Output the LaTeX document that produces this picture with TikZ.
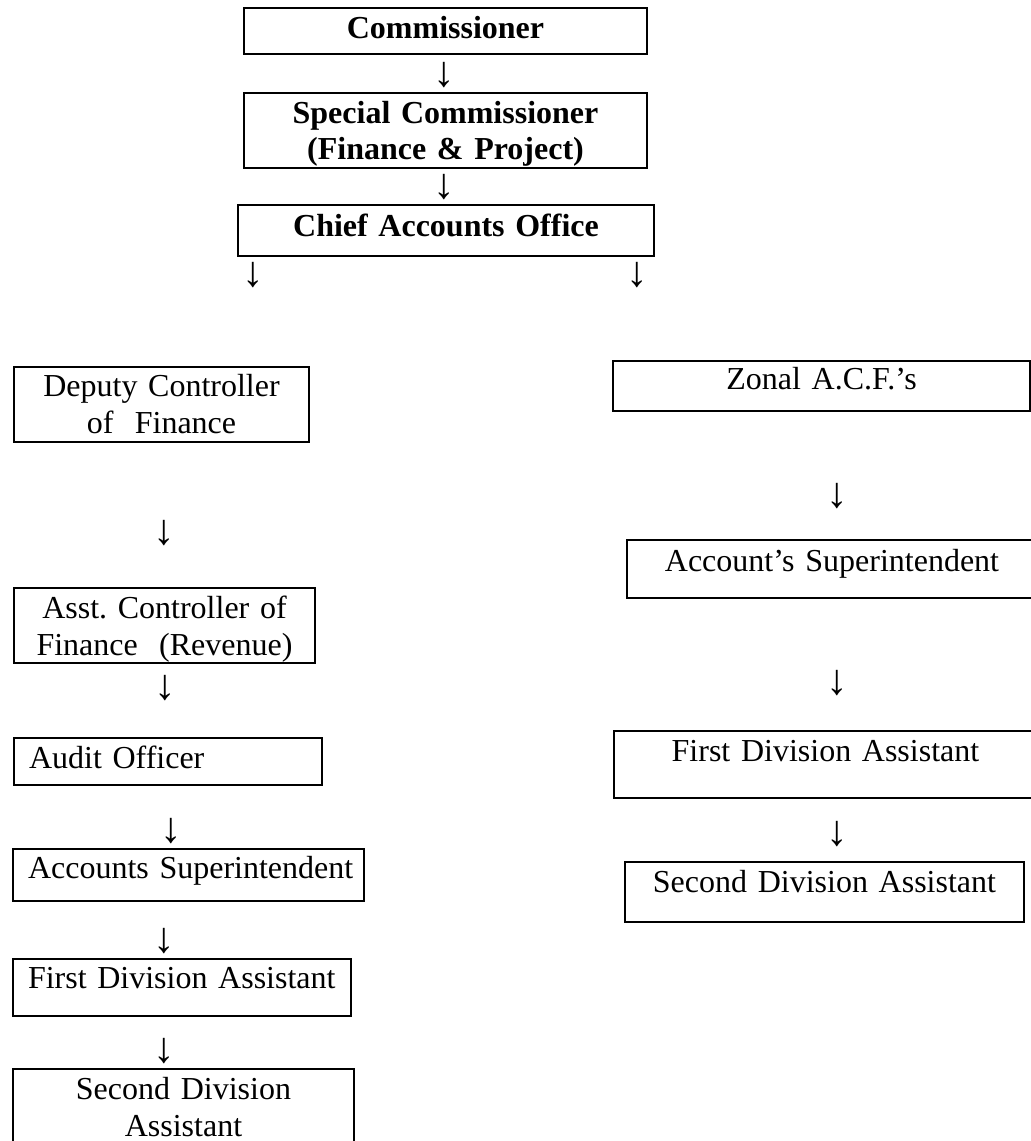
\documentclass[tikz,border=0pt]{standalone}
\usepackage{fontspec}
\setmainfont{Liberation Serif}
\frenchspacing
\hyphenpenalty=10000
\tikzstyle{post}=[draw=black,line width=2pt,anchor=north west,inner ysep=0pt,inner xsep=6pt,align=center,font=\fontsize{32}{37}\selectfont]
\tikzstyle{headpost}=[post,font=\fontsize{32}{36}\selectfont\bfseries]
\tikzstyle{leftpost}=[post,align=left,inner xsep=15pt]
\tikzstyle{down}=[inner sep=0pt,font=\fontsize{43}{43}\selectfont]

\begin{document}
\begin{tikzpicture}[x=1pt,y=-1pt]
    \useasboundingbox (0,0) rectangle (1031,1141);

    % head office
    \node[headpost, text width=391pt, text height=30pt, text depth=16pt] (comm) at (243,7) {Commissioner};
    \node[headpost, text width=391pt, text height=30pt, text depth=45pt] (spcomm) at (243,92) {Special Commissioner\\(Finance \& Project)};
    \node[headpost, text width=404pt, text height=31pt, text depth=20pt] (chief) at (237,204) {Chief Accounts Office};
    \node[down] (dncomm) at (444,75) {↓};
    \node[down] (dnspcomm) at (444,187) {↓};
    \node[down] (dnleft) at (253,275) {↓};
    \node[down] (dnright) at (637,275) {↓};

    % left branch
    \node[post, text width=283pt, text height=29pt, text depth=46pt] (dcf) at (13,366) {Deputy Controller\\of\ \ Finance};
    \node[down] (dndcf) at (164,533) {↓};
    \node[post, text width=289pt, text height=30pt, text depth=45pt] (acf) at (13,587) {Asst. Controller of\\Finance\ \ (Revenue)};
    \node[down] (dnacf) at (165,688) {↓};
    \node[leftpost, text width=278pt, text height=30pt, text depth=17pt] (audit) at (13,737) {Audit~Officer};
    \node[down] (dnaudit) at (171,831) {↓};
    \node[leftpost, text width=321pt, text height=29pt, text depth=23pt] (accsup) at (12,848) {Accounts~Superintendent};
    \node[down] (dnaccsup) at (164,941) {↓};
    \node[leftpost, text width=308pt, text height=29pt, text depth=28pt] (fda) at (12,958) {First~Division~Assistant};
    \node[down] (dnfda) at (164,1051) {↓};
    \node[post, text width=329pt, text height=30pt, text depth=52pt] (sda) at (12,1068) {Second Division\\Assistant};

    % right branch
    \node[post, text width=405pt, text height=28pt, text depth=22pt] (zonal) at (612,360) {Zonal A.C.F.’s};
    \node[down] (dnzonal) at (837,496) {↓};
    \node[post, text width=398pt, text height=31pt, text depth=27pt] (zsup) at (626,539) {Account’s Superintendent};
    \node[down] (dnzsup) at (837,683) {↓};
    \node[post, text width=411pt, text height=30pt, text depth=37pt] (zfda) at (613,730) {First Division Assistant};
    \node[down] (dnzfda) at (837,834) {↓};
    \node[post, text width=387pt, text height=30pt, text depth=30pt] (zsda) at (624,861) {Second Division Assistant};
\end{tikzpicture}
\end{document}
